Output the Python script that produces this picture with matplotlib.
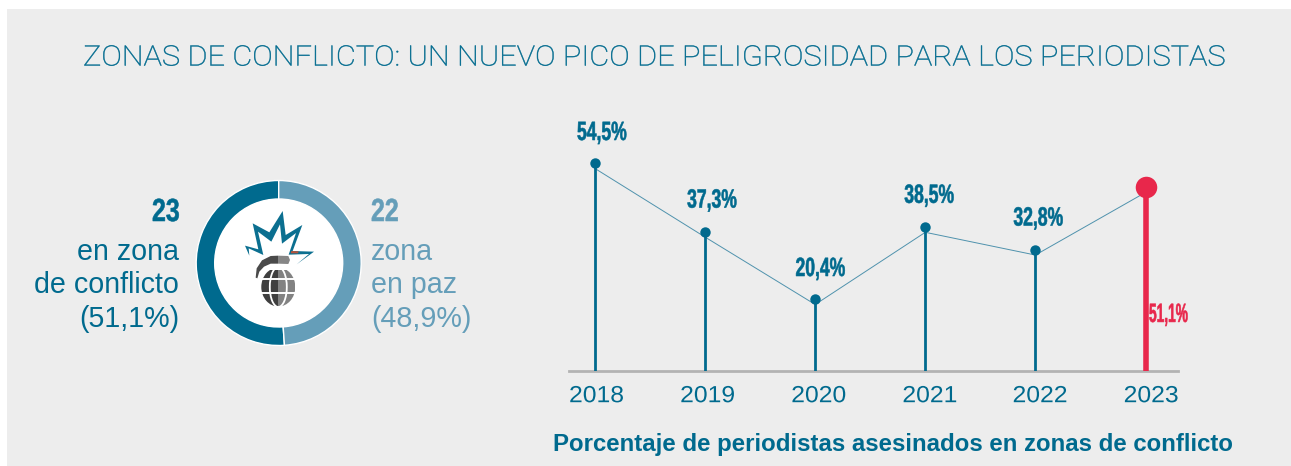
import matplotlib
matplotlib.use("Agg")
import matplotlib.pyplot as plt
from matplotlib.patches import Rectangle, Polygon, Circle, Ellipse
from matplotlib.patheffects import AbstractPathEffect
from matplotlib.transforms import Affine2D, offset_copy

# ---- data ----
TITLE = "ZONAS DE CONFLICTO: UN NUEVO PICO DE PELIGROSIDAD PARA LOS PERIODISTAS"
SUBTITLE = "Porcentaje de periodistas asesinados en zonas de conflicto"
years = [2018, 2019, 2020, 2021, 2022, 2023]
value_labels = ["54,5%", "37,3%", "20,4%", "38,5%", "32,8%", "51,1%"]
# height of each stem as drawn in the reference (2023 is drawn lower than its label)
stem_heights = [54.5, 37.3, 20.4, 38.5, 32.8, 48.5]
donut_counts = [23, 22]
left_lines = ["en zona", "de conflicto", "(51,1%)"]
right_lines = ["zona", "en paz", "(48,9%)"]

DARK = "#006a8e"
LIGHT = "#659eb9"
RED = "#e8274b"
BG = "#ededed"
W, H = 1291, 466

SANS = ["Liberation Sans", "DejaVu Sans"]
LIGHTFONT = ["Roboto", "Liberation Sans", "DejaVu Sans"]


class Stretch(AbstractPathEffect):
    """Draw a real text object narrower or wider about its left origin,
    optionally shifted in x and thickened by a thin outline."""

    def __init__(self, sx, dx=0, stroke=0):
        super().__init__()
        self.sx, self.dx, self.stroke = sx, dx, stroke

    def draw_path(self, renderer, gc, tpath, affine, rgbFace=None):
        gc0 = renderer.new_gc()
        gc0.copy_properties(gc)
        if self.stroke:
            gc0.set_linewidth(self.stroke)
            gc0.set_foreground(rgbFace)
        tr = Affine2D().scale(self.sx, 1) + affine + Affine2D().translate(self.dx, 0)
        renderer.draw_path(gc0, tpath, tr, rgbFace)
        gc0.restore()


fig = plt.figure(figsize=(W / 100, H / 100), dpi=100, facecolor="white")


def px_axes(x0, y0, x1, y1):
    """axes from pixel box (y measured from top)"""
    return fig.add_axes([x0 / W, 1 - y1 / H, (x1 - x0) / W, (y1 - y0) / H])


# overlay in pixel coordinates: panel, texts, icon
bgax = px_axes(0, 0, W, H)
bgax.set_xlim(0, W)
bgax.set_ylim(H, 0)
bgax.axis("off")
bgax.add_patch(Rectangle((7, 9), W - 7, H - 9, fc=BG, ec="none"))

bgax.text(83, 58, TITLE, ha="left", va="center", color=DARK, fontsize=20.2,
          family=LIGHTFONT, fontweight="light", path_effects=[Stretch(1.095, stroke=0.35)])
bgax.text(893, 444, SUBTITLE, ha="center", va="center", color=DARK, fontsize=17.3,
          family=SANS, fontweight="bold")

# left and right donut captions
bgax.text(152, 213, str(donut_counts[0]), ha="left", va="center", color=DARK,
          fontsize=23, family=SANS, fontweight="bold", path_effects=[Stretch(0.78, stroke=0.4)])
bgax.text(371, 213, str(donut_counts[1]), ha="left", va="center", color=LIGHT,
          fontsize=23, family=SANS, fontweight="bold", path_effects=[Stretch(0.78, stroke=0.4)])
for y, a, b in zip([252, 285, 319], left_lines, right_lines):
    bgax.text(179, y, a, ha="right", va="center", color=DARK, fontsize=20.6, family=SANS)
    bgax.text(371, y, b, ha="left", va="center", color=LIGHT, fontsize=20.6, family=SANS)

# ---- donut ----
cx, cy, R = 278.7, 263, 82.5
dax = px_axes(cx - R, cy - R, cx + R, cy + R)
dax.pie(donut_counts, colors=[DARK, LIGHT], startangle=90, counterclock=True, radius=1,
        wedgeprops=dict(width=18.5 / 82.5, edgecolor="white", linewidth=1.0))
dax.set_xlim(-1, 1)
dax.set_ylim(-1, 1)
dax.add_patch(Circle((0, 0), 64 / 82.5, fc="white", ec="none"))
dax.patch.set_alpha(0)

# ---- icon, on top of donut, in pixel coordinates ----
iax = px_axes(0, 0, W, H)
iax.set_xlim(0, W)
iax.set_ylim(H, 0)
iax.axis("off")
iax.patch.set_alpha(0)


def z(points):
    return [(240 + x / 3, 205 + y / 3) for x, y in points]


star = [(28, 152), (15, 122), (55, 133), (38, 55), (88, 82), (128, 18), (137, 90), (187, 60),
        (158, 138), (222, 140), (170, 178), (207, 147), (146, 149), (168, 84), (126, 116),
        (120, 58), (94, 110), (54, 80), (70, 150), (26, 130)]
iax.add_patch(Polygon(z(star), closed=True, fc="#0b6f90", ec="none"))
iax.add_patch(Polygon(z([(154, 138), (176, 139), (174, 145), (152, 145)]), closed=True,
                      fc="#b5533c", ec="none"))

gx, gy, ga, gb = 278.3, 287, 17, 19.5
clip = Ellipse((gx, gy), 2 * ga, 2 * gb, fc="none", ec="none")
iax.add_patch(clip)
rl = Rectangle((gx - ga, gy - gb), ga, 2 * gb, fc="#3f3f3f", ec="none")
rr = Rectangle((gx, gy - gb), ga, 2 * gb, fc="#828282", ec="none")
iax.add_patch(rl)
iax.add_patch(rr)
rl.set_clip_path(clip)
rr.set_clip_path(clip)
meridian = Ellipse((gx, gy), 17, 2 * gb + 1, fc="none", ec="white", lw=1.3)
iax.add_patch(meridian)
for yy in (gy - 8, gy + 5.5):
    iax.plot([gx - ga, gx + ga], [yy, yy], color="white", lw=1.4, solid_capstyle="butt")
# neck gap and handle
iax.add_patch(Rectangle((gx - 18, gy - 21), 36, 3.5, fc="white", ec="none"))
iax.add_patch(Polygon(z([(47, 218), (50, 190), (66, 166), (92, 153), (114, 152), (114, 176),
                         (92, 176), (72, 185), (58, 200), (52, 220)]), closed=True,
                      fc="#4a4a4a", ec="none"))
iax.add_patch(Polygon(z([(114, 152), (145, 153), (150, 165), (145, 177), (114, 176)]),
                      closed=True, fc="#868686", ec="none"))

# ---- stem chart ----
X0, X1, YTOP, YBASE = 569, 1178, 130, 371
xstep = (1145.5 - 595) / 5
ystep = (299 - 163) / (54.5 - 20.4)
ax = px_axes(X0, YTOP, X1, YBASE)
ax.patch.set_alpha(0)
ax.set_xlim(2018 - (595 - X0) / xstep, 2023 + (X1 - 1145.5) / xstep)
ybottom = 54.5 - (YBASE - 163) / ystep
ax.set_ylim(ybottom, 54.5 + (163 - YTOP) / ystep)

line_tr = offset_copy(ax.transData, fig=fig, x=0, y=-5.5, units="dots")
ax.plot(years, stem_heights, color="#4f92ad", lw=0.7, transform=line_tr, zorder=2)

label_dx = [-18, -18, -19.7, -21, -22, 3.5]
label_dy = [30, 31, 30, 31, 31, -128]
label_sx = [0.665, 0.665, 0.665, 0.665, 0.665, 0.52]
for yr, h, lab, dx, dy, sx in zip(years, stem_heights, value_labels, label_dx, label_dy, label_sx):
    last = yr == years[-1]
    col = RED if last else DARK
    ax.vlines(yr, ybottom, h, color=col, lw=4.0 if last else 2.0, zorder=3)
    ax.plot([yr], [h], "o", color=col, ms=15.5 if last else 7.5, mew=0, zorder=4, clip_on=False)
    ax.annotate(lab, (yr, h), xytext=(dx, dy), textcoords="offset pixels", ha="left",
                va="center", color=col, fontsize=19, family=SANS, fontweight="bold",
                annotation_clip=False, path_effects=[Stretch(sx, stroke=0.4)])

for s in ("top", "left", "right"):
    ax.spines[s].set_visible(False)
ax.spines["bottom"].set_color("#b3b3b3")
ax.spines["bottom"].set_linewidth(2.0)
ax.set_yticks([])
ax.set_xticks(years)
ax.set_xticklabels([str(y) for y in years], color=DARK, fontsize=16.8, family=SANS)
ax.tick_params(axis="x", length=0, pad=9.5)
for t, d in zip(ax.get_xticklabels(), [0, 1, 2, 3, 3, 4]):
    t.set_path_effects([Stretch(1.06, dx=d)])

fig.savefig("out.png", dpi=100, facecolor="white")
